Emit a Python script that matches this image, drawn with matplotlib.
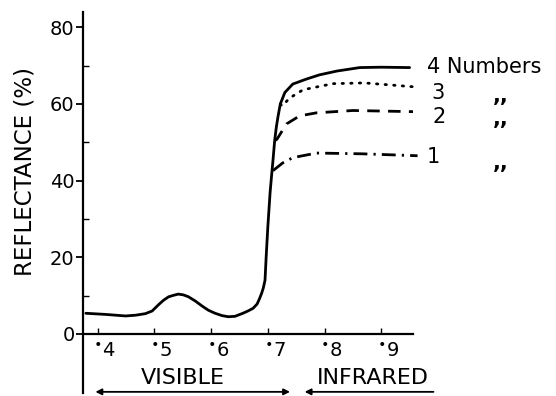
import matplotlib
matplotlib.use("Agg")
import matplotlib.pyplot as plt
import matplotlib.transforms as mtransforms

# ---- data ----
base_x = [0.379, 0.414, 0.449, 0.467, 0.484, 0.496, 0.507, 0.516, 0.525, 0.534,
          0.542, 0.551, 0.560, 0.572, 0.584, 0.595, 0.607, 0.619, 0.630, 0.642,
          0.656, 0.665, 0.674, 0.681, 0.685, 0.689, 0.692, 0.695, 0.697, 0.700,
          0.704, 0.707]
base_y = [5.4, 5.1, 4.7, 4.9, 5.3, 6.0, 7.6, 8.8, 9.7, 10.1,
          10.4, 10.2, 9.7, 8.6, 7.3, 6.2, 5.4, 4.8, 4.5, 4.6,
          5.4, 6.0, 6.7, 7.8, 9.1, 10.6, 12.0, 14.0, 20, 28,
          37, 42]

x4 = [0.709, 0.712, 0.715, 0.718, 0.722, 0.730, 0.744, 0.768, 0.791, 0.822, 0.862, 0.90, 0.95]
y4 = [45.2, 50.4, 54.0, 56.8, 60, 63, 65.2, 66.5, 67.6, 68.6, 69.5, 69.6, 69.5]
x3 = [0.722, 0.725, 0.739, 0.762, 0.788, 0.815, 0.87, 0.956]
y3 = [60, 59.5, 61.6, 63.7, 64.5, 65.3, 65.5, 64.5]
x2 = [0.712, 0.716, 0.733, 0.756, 0.786, 0.85, 0.956]
y2 = [50.4, 50.8, 54.8, 56.9, 57.7, 58.3, 58]
x1 = [0.709, 0.726, 0.744, 0.786, 0.867, 0.964]
y1 = [42.6, 44.6, 46, 47.2, 47, 46.5]

xticks = [0.4, 0.5, 0.6, 0.7, 0.8, 0.9]
xticklabels = [r"$^{\bullet}$4", r"$^{\bullet}$5", r"$^{\bullet}$6",
               r"$^{\bullet}$7", r"$^{\bullet}$8", r"$^{\bullet}$9"]
yticks = [0, 20, 40, 60, 80]
series_labels = ["4 Numbers", "3", "2", "1"]

plt.rcParams['font.family'] = ['DejaVu Sans']
plt.rcParams['mathtext.fontset'] = 'dejavusans'

fig = plt.figure(figsize=(5.56, 3.96), dpi=100)
ax = fig.add_axes([83/556, 1-393/396, (413-83)/556, (393-12)/396])
ax.set_xlim(0.374, 0.956)
ax.set_ylim(-15.4, 84)

k = dict(color='black', lw=2.0, clip_on=False)
ax.plot(base_x + x4, base_y + y4, '-', solid_capstyle='round',
        solid_joinstyle='round', **k)
ax.plot(x3, y3, linestyle=(0, (0.5, 2.6)), dash_capstyle='round', **k)
ax.plot(x2, y2, linestyle=(0, (4.5, 3)), **k)
ax.plot(x1, y1, linestyle=(0, (5, 2.2, 0.8, 2.2)), **k)

for s in ['top', 'right']:
    ax.spines[s].set_visible(False)
ax.spines['bottom'].set_position(('data', 0))
ax.spines['left'].set_linewidth(1.6)
ax.spines['bottom'].set_linewidth(1.6)

ax.set_yticks(yticks)
ax.set_yticks([10, 30, 50, 70], minor=True)
ax.tick_params(axis='y', which='major', direction='out', length=5, width=1.3,
               labelsize=14, pad=1)
ax.tick_params(axis='y', which='minor', direction='in', length=4, width=1.0)
ax.set_xticks(xticks)
ax.set_xticklabels(xticklabels)
ax.tick_params(axis='x', direction='in', length=4, width=1.0, labelsize=14, pad=5)
off = mtransforms.ScaledTranslation(7/100, 0, fig.dpi_scale_trans)
for lab in ax.get_xticklabels():
    lab.set_transform(lab.get_transform() + off)

# labels on right
fs = 15
ax.text(0.98, 69.7, series_labels[0], fontsize=fs, va='center', ha='left')
ax.text(0.989, 62.9, series_labels[1], fontsize=fs, va='center', ha='left')
ax.text(0.991, 56.7, series_labels[2], fontsize=fs, va='center', ha='left')
ax.text(0.98, 46.2, series_labels[3], fontsize=fs, va='center', ha='left')
for yy in [62.0, 56.0, 44.5]:
    ax.text(1.097, yy, ",,", fontsize=fs, va='center', ha='left', fontweight='bold')

# region labels and arrows
ax.text(0.55, -11.5, "VISIBLE", fontsize=16, ha='center', va='center')
ax.text(0.885, -11.5, "INFRARED", fontsize=16, ha='center', va='center')
ax.annotate("", xy=(0.391, -15.1), xytext=(0.744, -15.1),
            arrowprops=dict(arrowstyle='<|-|>', color='black', lw=1.3, mutation_scale=9),
            annotation_clip=False)
ax.annotate("", xy=(0.76, -15.1), xytext=(0.997, -15.1),
            arrowprops=dict(arrowstyle='-|>', color='black', lw=1.3, mutation_scale=9),
            annotation_clip=False)

fig.text(25/556, 1-172/396, "REFLECTANCE (%)", rotation=90, fontsize=16.5,
         ha='center', va='center')

fig.savefig("out.png", dpi=100)
